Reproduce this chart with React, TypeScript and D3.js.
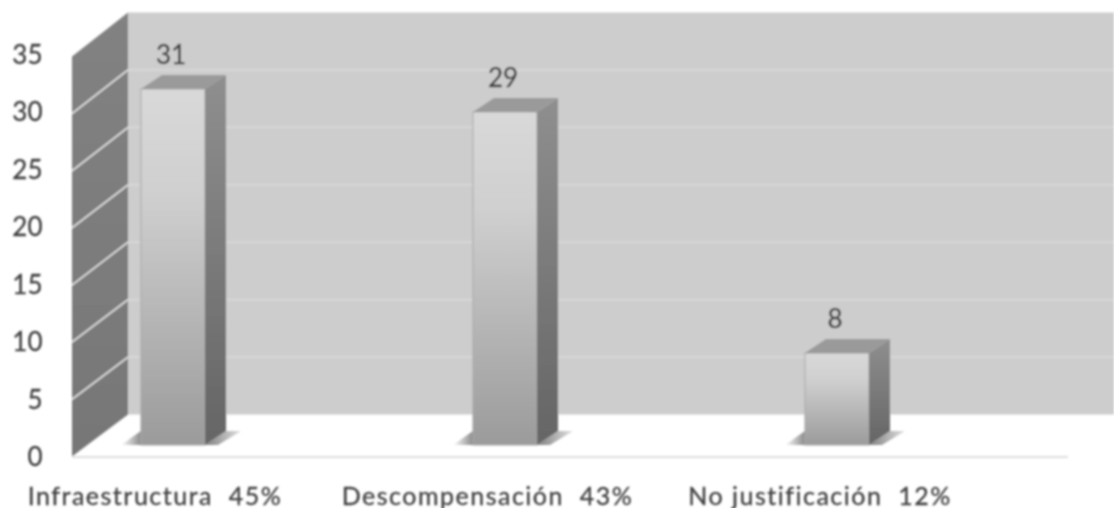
import React from "react";
import * as d3 from "d3";

const categories = ["Infraestructura", "Descompensación", "No justificación"];
const percents = ["45%", "43%", "12%"];
const values = [31, 29, 8];
const yTicks = [0, 5, 10, 15, 20, 25, 30, 35];

const W = 1114, H = 508;
const yFront = d3.scaleLinear().domain([0, 35]).range([456.5, 56.5]);
const yBack = d3.scaleLinear().domain([0, 35]).range([414.5, 12.5]);
const yBar = d3.scaleLinear().domain([0, 35]).range([445, 43]);
const x = d3.scaleBand<string>().domain(categories).range([7, 1003]).paddingInner(0.807).paddingOuter(0.4035);
const labelX = d3.scalePoint<string>().domain(categories).range([155, 820]);
const wallFront = 72, wallBack = 128, dx = 21, dy = 14;
const font = "Lato, 'Open Sans', sans-serif";
const pts = (p: number[][]) => p.map(q => q.join(",")).join(" ");

export default function App() {
  const bw = x.bandwidth();
  return (
    <svg width={W} height={H} viewBox={`0 0 ${W} ${H}`} style={{ position: "absolute", left: 0, top: 0, background: "#fff" }}>
      <defs>
        <filter id="soft" x="-2%" y="-2%" width="104%" height="104%"><feGaussianBlur stdDeviation="0.85" /></filter>
        <linearGradient id="front" x1="0" y1="0" x2="0" y2="1">
          <stop offset="0" stopColor="#d9d9d9" /><stop offset="0.3" stopColor="#cfcfcf" /><stop offset="1" stopColor="#9b9b9b" />
        </linearGradient>
        <linearGradient id="side" x1="0" y1="0" x2="0" y2="1">
          <stop offset="0" stopColor="#8f8f8f" /><stop offset="1" stopColor="#656565" />
        </linearGradient>
        <linearGradient id="wall" x1="0" y1="0" x2="0" y2="1">
          <stop offset="0" stopColor="#828282" /><stop offset="1" stopColor="#777777" />
        </linearGradient>
        <linearGradient id="shadowL" x1="0" y1="0" x2="1" y2="0">
          <stop offset="0" stopColor="#ffffff" /><stop offset="1" stopColor="#8a8a8a" />
        </linearGradient>
        <linearGradient id="shadowR" x1="0" y1="0" x2="1" y2="0">
          <stop offset="0" stopColor="#808080" /><stop offset="1" stopColor="#e0e0e0" />
        </linearGradient>
      </defs>
      <g filter="url(#soft)">
        <rect x={wallBack} y={yBack(35)} width={W - wallBack} height={yBack(0) - yBack(35)} fill="#cdcdcd" />
        <polygon fill="url(#wall)" points={pts([[wallFront, yFront(35)], [wallBack, yBack(35)], [wallBack, yBack(0)], [wallFront, yFront(0)]])} />
        {yTicks.slice(1, -1).map(t => (
          <g key={t}>
            <line x1={wallBack} x2={W} y1={yBack(t)} y2={yBack(t)} stroke="#dadada" strokeWidth={1.5} />
            <line x1={wallFront} x2={wallBack} y1={yFront(t)} y2={yBack(t)} stroke="#e8e8e8" strokeWidth={1.5} />
          </g>
        ))}
        <line x1={wallFront} x2={1068} y1={457} y2={457} stroke="#d4d4d4" strokeWidth={1.5} />
        {categories.map((c, i) => {
          const x0 = x(c)!, x1 = x0 + bw, top = yBar(values[i]), base = yBar(0);
          return (
            <g key={c}>
              <polygon fill="url(#shadowL)" points={pts([[x0 - 20, base], [x0, base], [x0, base - dy]])} />
              <polygon fill="url(#shadowR)" points={pts([[x1, base], [x1 + dx, base - dy], [x1 + dx + 15, base - dy], [x1 + 13, base]])} />
              <rect x={x0} y={top} width={bw} height={base - top} fill="url(#front)" stroke="#a8a8a8" strokeWidth={1} />
              <polygon fill="url(#side)" points={pts([[x1, top], [x1 + dx, top - dy], [x1 + dx, base - dy], [x1, base]])} />
              <polygon fill="#9a9a9a" points={pts([[x0, top], [x0 + dx, top - dy], [x1 + dx, top - dy], [x1, top]])} />
              <text x={x0 + bw / 2 - 2} y={top - dy - 11} textAnchor="middle" fontFamily={font} fontSize={26} fill="#3a3a3a" stroke="#3a3a3a" strokeWidth={0.3}>{values[i]}</text>
            </g>
          );
        })}
        {yTicks.map(t => (
          <text key={t} x={42.5} y={yBar(t) + 21} textAnchor="end" fontFamily={font} fontSize={26} fill="#404040" stroke="#404040" strokeWidth={0.3}>{t}</text>
        ))}
        {categories.map((c, i) => (
          <text key={c} x={labelX(c)} y={504.5} textAnchor="middle" fontFamily={font} fontSize={25} letterSpacing={1.5} fill="#404040" stroke="#404040" strokeWidth={0.3} xmlSpace="preserve">{`${c}  ${percents[i]}`}</text>
        ))}
      </g>
    </svg>
  );
}
